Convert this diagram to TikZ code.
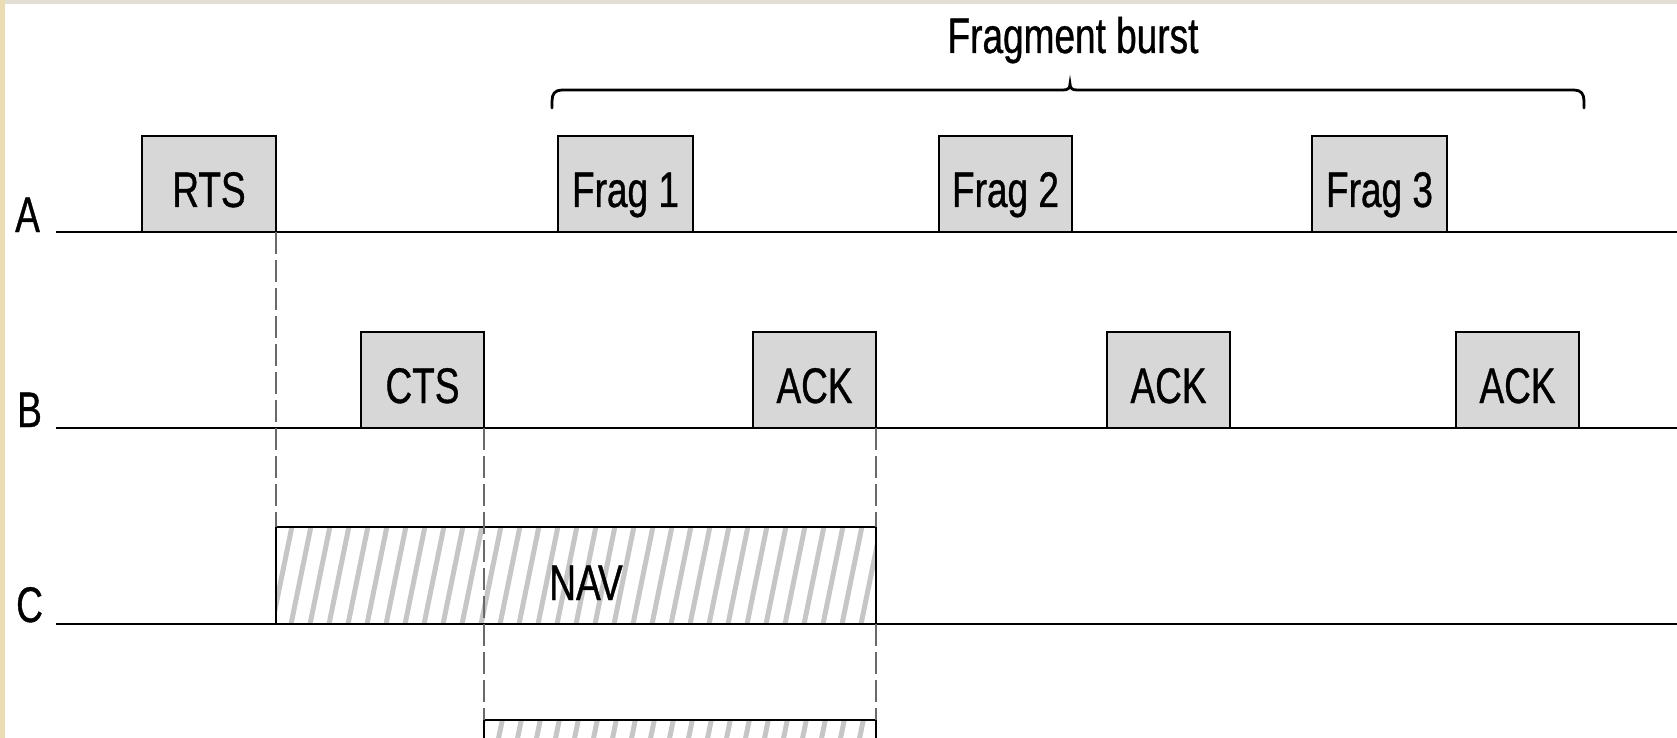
\documentclass[tikz,border=0pt]{standalone}
\usepackage{fontspec}
\newfontfamily\lab[FakeStretch=0.74,FakeBold=0.7]{Liberation Sans}
\usetikzlibrary{calc}
\definecolor{boxgray}{RGB}{215,215,215}
\definecolor{hatchgray}{RGB}{198,198,198}
\definecolor{dashgray}{RGB}{105,105,105}
\definecolor{beige}{RGB}{236,220,180}
\definecolor{topband}{RGB}{226,222,212}
\begin{document}
\begin{tikzpicture}[x=1pt,y=-1pt,
  timeline/.style={line width=2.9pt},
  txt/.style={font=\lab\fontsize{50}{60}\selectfont, inner sep=0pt},
  pkt/.style={draw, line width=2.6pt, fill=boxgray, inner sep=0pt, outer sep=0pt,
    minimum height=96pt, text height=46pt, text depth=0pt, anchor=south west,
    font=\lab\fontsize{50}{60}\selectfont},
  hatched/.style={draw, line width=2.6pt, fill=white, inner sep=0pt, outer sep=0pt,
    path picture={
      \foreach \k in {-30,...,30} {
        \draw[hatchgray, line width=5pt]
          ($(path picture bounding box.south)+(\k*19-2,10)$) -- ++(24.5,-120);
      }}},
  guide/.style={dashgray, line width=2pt, dash pattern=on 22pt off 6pt},
  bracestyle/.style={line width=2.8pt, line cap=round}]

\useasboundingbox (0,0) rectangle (1677,738);
\fill[white] (0,0) rectangle (1677,738);
\fill[beige] (0,0) rectangle (5,738);
\fill[topband] (5,0) rectangle (1677,4);

% row labels
\node[txt, anchor=base west] (la) at (15,232) {A};
\node[txt, anchor=base west] (lb) at (17,427) {B};
\node[txt, anchor=base west] (lc) at (16,622) {C};

% time lines
\coordinate (a0) at (56,232); \coordinate (a1) at (1677,232);
\coordinate (b0) at (56,428); \coordinate (b1) at (1677,428);
\coordinate (c0) at (56,624); \coordinate (c1) at (1677,624);
\draw[timeline] (a0) -- (a1);
\draw[timeline] (b0) -- (b1);
\draw[timeline] (c0) -- (c1);

% station A
\node[pkt, minimum width=134pt] (rts) at (142,232) {RTS};
\node[pkt, minimum width=135pt] (f1) at (558,232) {Frag 1};
\node[pkt, minimum width=133pt] (f2) at (939,232) {Frag 2};
\node[pkt, minimum width=135pt] (f3) at (1312,232) {Frag 3};

% station B
\node[pkt, minimum width=123pt] (cts) at (361,428) {CTS};
\node[pkt, minimum width=123pt] (ack1) at (753,428) {ACK};
\node[pkt, minimum width=123pt] (ack2) at (1107,428) {ACK};
\node[pkt, minimum width=123pt] (ack3) at (1456,428) {ACK};

% NAV boxes
\node[hatched, anchor=south west, minimum width=600pt, minimum height=97pt] (nav) at (276,624) {};
\node[txt, anchor=base] (navtext) at (586,600) {NAV};
\node[hatched, anchor=north west, minimum width=392pt, minimum height=60pt] (dnav) at (484,720) {};

% dashed guides
\draw[guide] (rts.south east) -- (nav.north west);
\draw[guide] (cts.south east) -- (dnav.north west);
\draw[guide] (ack1.south east) -- (nav.north east);
\draw[guide] (nav.south east) -- (dnav.north east);
\draw[line width=2.6pt] (nav.north west) -- (nav.south west);
\draw[line width=2.6pt] (nav.north east) -- (nav.south east);

% brace
\coordinate (bl) at (552,108);
\coordinate (bt) at (1070,84);
\coordinate (br) at (1584,108);
\draw[bracestyle] (bl) -- (552,101) .. controls (552,94) and (555,90) .. (562,90)
  -- (1063,90) .. controls (1068,90) and (1070,88) .. (bt)
  .. controls (1070,88) and (1072,90) .. (1077,90)
  -- (1574,90) .. controls (1581,90) and (1584,94) .. (1584,101) -- (br);
\node[txt, anchor=base] (burst) at (1073,53) {Fragment burst};
\end{tikzpicture}
\end{document}
